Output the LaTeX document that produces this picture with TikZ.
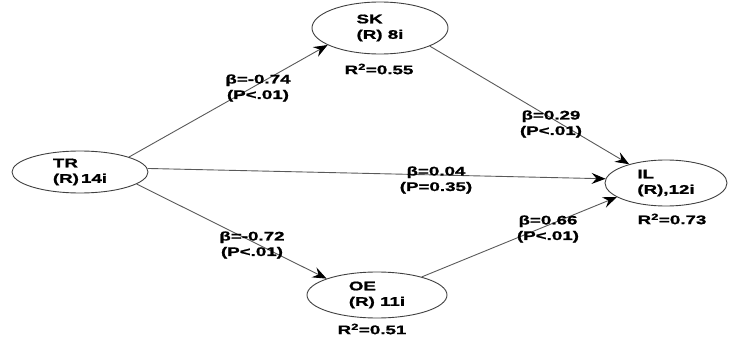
\documentclass[tikz,border=0pt]{standalone}
\usepackage{fontspec}
\setmainfont{Liberation Sans}[FakeStretch=1.5,BoldFeatures={FakeBold=1.2}]
\usetikzlibrary{shapes.geometric,arrows.meta}
\begin{document}
\begin{tikzpicture}[x=1pt,y=-1pt,
  font=\fontsize{12.5}{15.5}\selectfont\bfseries,
  lv/.style={ellipse,draw=black!75,line width=0.9pt,fill=white,inner sep=0pt,align=left},
  lab/.style={align=center,inner sep=0pt},
  path/.style={draw=black!65,line width=0.9pt,-{Stealth[length=14pt,width=11pt,inset=5pt,black]}}]
\useasboundingbox (0,0) rectangle (732,345);
\node[lv,minimum width=136pt,minimum height=42pt] (TR) at (80,172) {TR\\(R)\,14i};
\node[lv,minimum width=136pt,minimum height=52pt] (SK) at (380,28) {SK\\(R) 8i};
\node[lv,minimum width=122pt,minimum height=46pt] (IL) at (666,183) {IL\\(R),12i};
\node[lv,minimum width=140pt,minimum height=46pt] (OE) at (377,295) {OE\\(R) 11i};
\node[lab] (rsk) at (379,69) {R\textsuperscript{2}=0.55};
\node[lab] (ril) at (672,219) {R\textsuperscript{2}=0.73};
\node[lab] (roe) at (372,329) {R\textsuperscript{2}=0.51};
\draw[path] (TR.17) -- (SK.198);
\draw[path] (SK.-20) -- (IL.153);
\draw[path] (TR.3) -- (IL.176);
\draw[path] (TR.-12) -- (OE.162);
\draw[path] (OE.22) -- (IL.196);
\node[lab] (l1) at (258,88) {β=-0.74\\(P<.01)};
\node[lab] (l2) at (551,124) {β=0.29\\(P<.01)};
\node[lab] (l3) at (436,180) {β=0.04\\(P=0.35)};
\node[lab] (l4) at (252,245) {β=-0.72\\(P<.01)};
\node[lab] (l5) at (548,229) {β=0.66\\(P<.01)};
\end{tikzpicture}
\end{document}
